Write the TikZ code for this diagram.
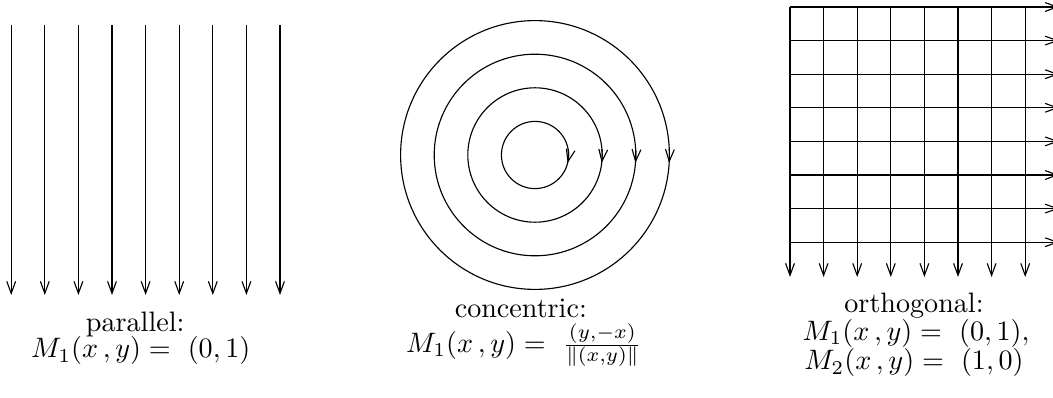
\documentclass[tikz,border=0pt]{standalone}
\usepackage{xcolor}
\usepackage{tikz}
\usetikzlibrary{arrows.meta,bending}
\definecolor{FieldLine}{HTML}{000000}

\begin{document}
\begin{tikzpicture}[x=1cm,y=1cm,
  vec/.style={FieldLine,-{Straight Barb[length=1.5mm,width=1.1mm]}},
  gridline/.style={FieldLine},
  caption/.style={anchor=base,inner sep=0pt}]
\path[use as bounding box] (0,0) rectangle (13.1625,4.9625);
% parallel field
\draw[vec] (0.14,4.65) -- (0.14,1.275);
\draw[vec] (0.56,4.65) -- (0.56,1.275);
\draw[vec] (0.98,4.65) -- (0.98,1.275);
\draw[vec] (1.40,4.65) -- (1.40,1.275);
\draw[vec] (1.82,4.65) -- (1.82,1.275);
\draw[vec] (2.24,4.65) -- (2.24,1.275);
\draw[vec] (2.66,4.65) -- (2.66,1.275);
\draw[vec] (3.08,4.65) -- (3.08,1.275);
\draw[vec] (3.50,4.65) -- (3.50,1.275);
\node[caption] (partitle) at (1.69,0.825) {parallel:};
\node[caption] (parmap) at (1.76,0.49) {$M_1(x\,,y) =\ (0,1)$};
% concentric field
\coordinate (ctr) at (6.6875,3.025);
\draw[gridline] (ctr) circle (0.42);
\draw[gridline] (ctr) circle (0.84);
\draw[gridline] (ctr) circle (1.26);
\draw[gridline] (ctr) circle (1.68);
\draw[vec] (ctr) ++(10:0.42) arc[start angle=10,end angle=-13.8,radius=0.42];
\draw[vec] (ctr) ++(5:0.84) arc[start angle=5,end angle=-6.8,radius=0.84];
\draw[vec] (ctr) ++(3.5:1.26) arc[start angle=3.5,end angle=-4.55,radius=1.26];
\draw[vec] (ctr) ++(2.6:1.68) arc[start angle=2.6,end angle=-3.4,radius=1.68];
\node[caption] (contitle) at (6.51,1.0) {concentric:};
\node[caption] (conmap) at (6.55,0.56) {$M_1(x\,,y) =\ \frac{(y,-x)}{\|(x,y)\|}$};
% orthogonal field
\draw[vec] (9.875,4.875) -- (9.875,1.5);
\draw[vec] (10.295,4.875) -- (10.295,1.5);
\draw[vec] (10.715,4.875) -- (10.715,1.5);
\draw[vec] (11.135,4.875) -- (11.135,1.5);
\draw[vec] (11.555,4.875) -- (11.555,1.5);
\draw[vec] (11.975,4.875) -- (11.975,1.5);
\draw[vec] (12.395,4.875) -- (12.395,1.5);
\draw[vec] (12.815,4.875) -- (12.815,1.5);
\draw[vec] (9.875,4.875) -- (13.235,4.875);
\draw[vec] (9.875,4.455) -- (13.235,4.455);
\draw[vec] (9.875,4.035) -- (13.235,4.035);
\draw[vec] (9.875,3.615) -- (13.235,3.615);
\draw[vec] (9.875,3.195) -- (13.235,3.195);
\draw[vec] (9.875,2.775) -- (13.235,2.775);
\draw[vec] (9.875,2.355) -- (13.235,2.355);
\draw[vec] (9.875,1.935) -- (13.235,1.935);
\node[caption] (orttitle) at (11.425,1.06) {orthogonal:};
\node[caption] (ortmapa) at (11.45,0.71) {$M_1(x\,,y) =\ (0,1),$};
\node[caption] (ortmapb) at (11.425,0.34) {$M_2(x\,,y) =\ (1,0)$};
\end{tikzpicture}
\end{document}
